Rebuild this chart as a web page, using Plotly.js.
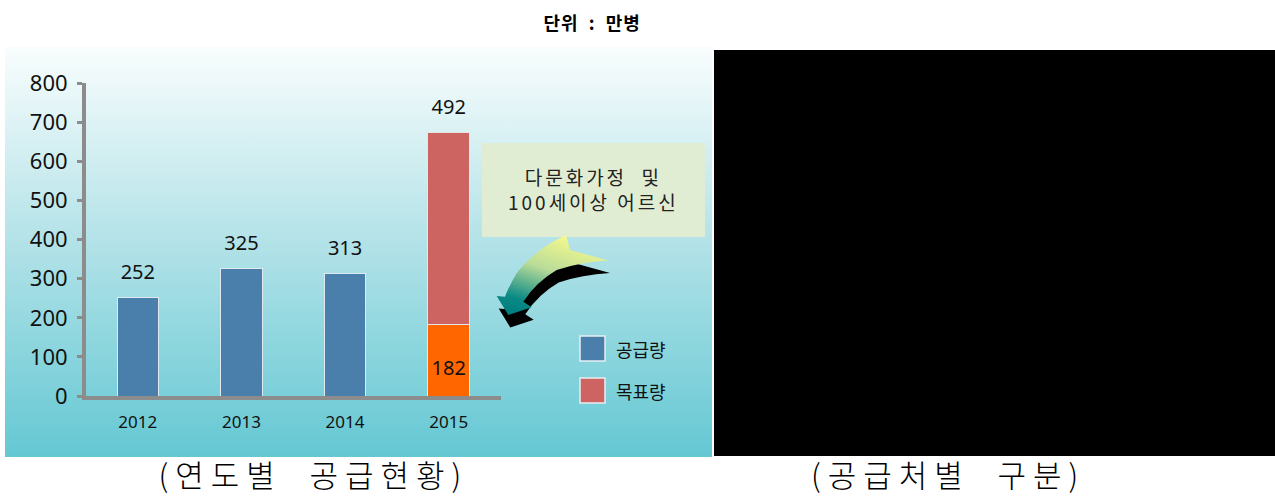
<!DOCTYPE html>
<html>
<head>
<meta charset="utf-8">
<script src="https://cdn.plot.ly/plotly-3.0.1.min.js"></script>
<style>
html,body{margin:0;padding:0;background:#fff;}
#chart{width:1275px;height:496px;}
</style>
</head>
<body>
<div id="chart"></div>
<script>
// ---- data ----
const years = ['2012', '2013', '2014', '2015'];
const supply = [252, 325, 313, 182];
const target = [null, null, null, 492];
const seriesNames = ['공급량', '목표량'];
const yTickVals = [0, 100, 200, 300, 400, 500, 600, 700, 800];
const unitText = '단위 : 만병';
const noteLines = ['다문화가정\u00a0\u00a0및', '100세이상 어르신'];
const captions = ['(연도별\u00a0\u00a0공급현황)', '(공급처별\u00a0\u00a0구분)'];

// ---- styles ----
const W = 1275, H = 496;
const px = v => v / W;
const py = v => 1 - v / H;
const BLUE = '#4a7eab', RED = '#cd6462', ORANGE = '#ff6600';
const supplyColors = years.map((y, i) => target[i] != null ? ORANGE : BLUE);
const numFont = 'Noto Sans, Noto Sans CJK KR, sans-serif';
const krFont = 'Noto Sans CJK KR, Noto Sans, sans-serif';

const totals = years.map((y, i) => supply[i] + (target[i] || 0));
const topLabels = years.map((y, i) => String(target[i] != null ? target[i] : supply[i]));
const innerX = years.filter((y, i) => target[i] != null);
const innerY = supply.filter((v, i) => target[i] != null).map(v => v / 2);
const innerText = supply.filter((v, i) => target[i] != null).map(String);

const traces = [
  {type: 'bar', name: seriesNames[0], x: years, y: supply,
   marker: {color: supplyColors, line: {color: '#dfe9f0', width: 1}},
   showlegend: false, hoverinfo: 'x+y'},
  {type: 'bar', name: seriesNames[1], x: years, y: target,
   marker: {color: RED, line: {color: '#e6e6e6', width: 1}},
   showlegend: false, hoverinfo: 'x+y'},
  {type: 'scatter', mode: 'markers+text', x: years, y: totals, text: topLabels,
   textposition: 'top center', marker: {size: 20, opacity: 0},
   textfont: {family: numFont, size: 20, color: '#111'}, cliponaxis: false,
   showlegend: false, hoverinfo: 'skip'},
  {type: 'scatter', mode: 'text', x: innerX, y: innerY, text: innerText,
   textposition: 'bottom center',
   textfont: {family: numFont, size: 20, color: '#111'}, cliponaxis: false,
   showlegend: false, hoverinfo: 'skip'}
];

const bgSvg = '<svg xmlns="http://www.w3.org/2000/svg" width="707" height="410" preserveAspectRatio="none" viewBox="0 0 707 410">' +
  '<defs><linearGradient id="g" x1="0" y1="0" x2="0" y2="1">' +
  '<stop offset="0" stop-color="#f9fdfd"/><stop offset="0.5" stop-color="#afe1e7"/><stop offset="1" stop-color="#64c8d3"/>' +
  '</linearGradient></defs><rect width="707" height="410" fill="url(#g)"/></svg>';

const arrowPath = 'M76,5 L80,20 L118,30.5 Q90,32 66.7,40 Q46,52 33.3,71.7 L41.7,77.3 L18.3,85 L6.7,66 L15,66.7 Q18,58 26.7,43.3 Q44,20 76,5 Z';
const arrowSvg = '<svg xmlns="http://www.w3.org/2000/svg" width="125" height="100" preserveAspectRatio="none" viewBox="0 0 125 100">' +
  '<defs><linearGradient id="a" x1="0.7" y1="0" x2="0.25" y2="1">' +
  '<stop offset="0" stop-color="#fbfb8c"/><stop offset="0.45" stop-color="#b9dc98"/><stop offset="0.85" stop-color="#0b8a85"/><stop offset="1" stop-color="#007f7f"/>' +
  '</linearGradient></defs>' +
  '<path d="' + arrowPath + '" fill="#000" transform="translate(2,12.5)"/>' +
  '<path d="' + arrowPath + '" fill="url(#a)"/></svg>';
const uri = s => 'data:image/svg+xml;charset=utf-8,' + encodeURIComponent(s);

const annotations = [];
// unit
annotations.push({xref: 'paper', yref: 'paper', x: px(592), y: py(22), xanchor: 'center', yanchor: 'middle',
  text: '<b>' + unitText.replace(/ /g, '\u00a0\u00a0') + '</b>', showarrow: false,
  font: {family: krFont, size: 18, color: '#000'}});
const unitIndex = 0;
// note box text
const noteIndex = annotations.length;
annotations.push({xref: 'paper', yref: 'paper', x: px(593), y: py(189), xanchor: 'center', yanchor: 'middle',
  text: noteLines.join('<br>'), showarrow: false, align: 'center',
  font: {family: krFont, size: 19, color: '#222'}});
// legend text
const legendY = [348.5, 390.5];
seriesNames.forEach((n, i) => {
  annotations.push({xref: 'paper', yref: 'paper', x: px(614), y: py(legendY[i]), xanchor: 'left', yanchor: 'middle',
    text: n, showarrow: false, font: {family: krFont, size: 18, color: '#111'}});
});
// captions
const capIndex = annotations.length;
const capX = [313, 948];
captions.forEach((c, i) => {
  annotations.push({xref: 'paper', yref: 'paper', x: px(capX[i]), y: py(473), xanchor: 'center', yanchor: 'middle',
    text: c, showarrow: false, font: {family: krFont, size: 31, color: '#000', weight: 300}});
});

const shapes = [
  {type: 'rect', xref: 'paper', yref: 'paper', x0: px(714), x1: 1, y0: py(456), y1: py(50),
   fillcolor: '#000', line: {width: 0}, layer: 'below'},
  {type: 'rect', xref: 'paper', yref: 'paper', x0: px(482), x1: px(705), y0: py(237), y1: py(143),
   fillcolor: '#e1edd3', line: {width: 0}, layer: 'below'}
];
[BLUE, RED].forEach((c, i) => {
  shapes.push({type: 'rect', xref: 'paper', yref: 'paper', x0: px(580), x1: px(605),
    y0: py(legendY[i] + 12.5), y1: py(legendY[i] - 12.5), fillcolor: c,
    line: {color: '#e8eef2', width: 1.5}, layer: 'above'});
});

const layout = {
  width: W, height: H,
  margin: {l: 0, r: 0, t: 0, b: 0, autoexpand: false},
  paper_bgcolor: '#fff', plot_bgcolor: 'rgba(0,0,0,0)',
  barmode: 'stack', bargap: 0.6,
  showlegend: false,
  xaxis: {domain: [px(86), px(500.5)], type: 'category', range: [-0.5, 3.5],
    showline: true, linecolor: '#8c8c8c', linewidth: 4, ticks: '', showgrid: false, zeroline: false,
    tickfont: {family: numFont, size: 17, color: '#111'}, ticklabelstandoff: 8, fixedrange: true},
  yaxis: {domain: [py(396), py(83.3)], range: [0, 800], tickvals: yTickVals,
    showline: true, linecolor: '#8c8c8c', linewidth: 4, ticks: 'outside', ticklen: 5, tickwidth: 3,
    tickcolor: '#8c8c8c', showgrid: false, zeroline: false,
    tickfont: {family: numFont, size: 22, color: '#111'}, ticklabelstandoff: 5, fixedrange: true},
  images: [
    {source: uri(bgSvg), xref: 'paper', yref: 'paper', x: px(5), y: py(47), sizex: 707 / W, sizey: 410 / H,
     xanchor: 'left', yanchor: 'top', sizing: 'stretch', layer: 'below'},
    {source: uri(arrowSvg), xref: 'paper', yref: 'paper', x: px(490), y: py(230), sizex: 125 / W, sizey: 100 / H,
     xanchor: 'left', yanchor: 'top', sizing: 'stretch', layer: 'above'}
  ],
  shapes: shapes,
  annotations: annotations
};

const css = document.createElement('style');
css.textContent =
  '.annotation[data-index="' + unitIndex + '"] text{letter-spacing:1px;}' +
  '.annotation[data-index="' + noteIndex + '"] text{letter-spacing:3px;}' +
  '.annotation[data-index="' + capIndex + '"] text,.annotation[data-index="' + (capIndex + 1) + '"] text{letter-spacing:7px;}';
document.head.appendChild(css);

Plotly.newPlot('chart', traces, layout, {displayModeBar: false, staticPlot: true});
</script>
</body>
</html>
